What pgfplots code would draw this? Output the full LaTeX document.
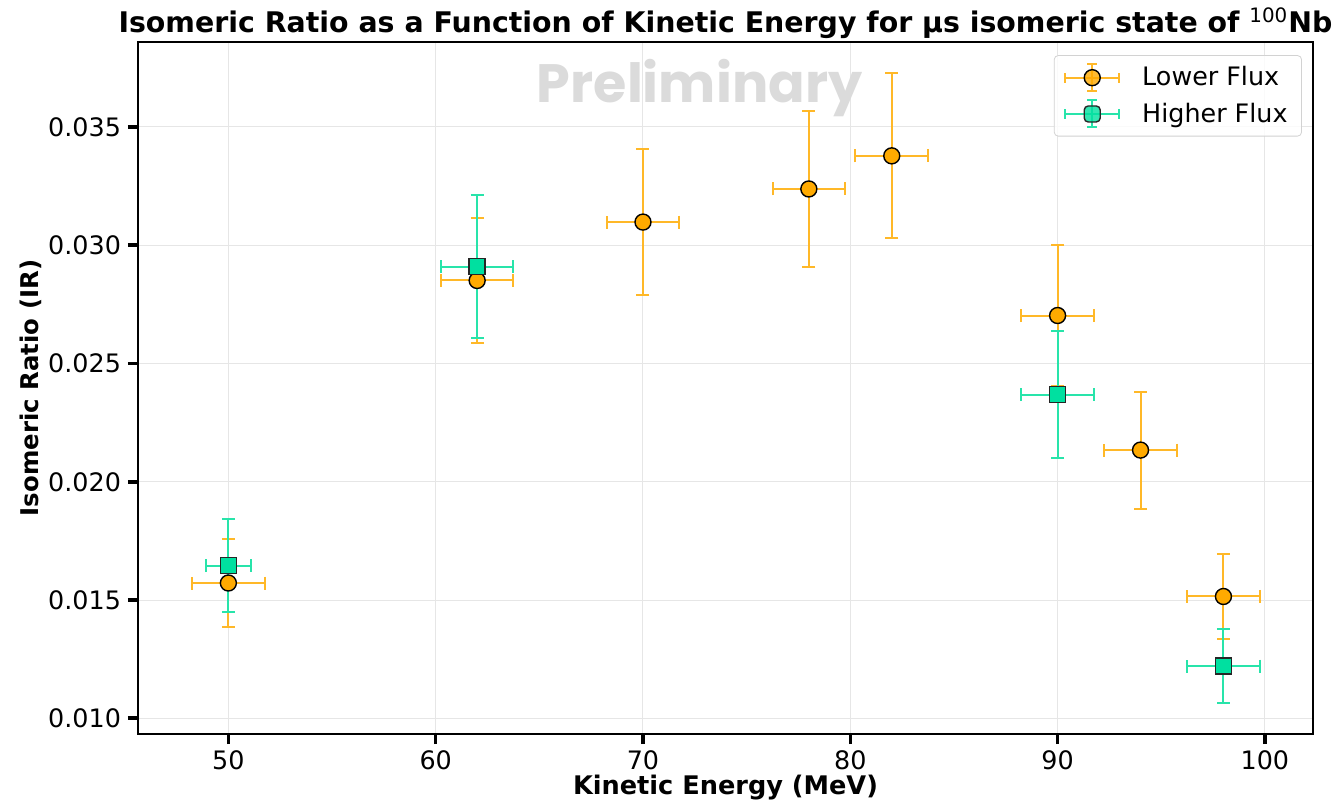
\documentclass[border=0pt]{standalone}
\usepackage{pgfplots}
\pgfplotsset{compat=1.18}
\usepackage{pgfplotstable}
\usepackage{fontspec}
\setmainfont{DejaVu Sans}
\newfontfamily\poppins{Poppins}
\definecolor{orfill}{RGB}{255,170,0}
\definecolor{orbar}{RGB}{255,184,40}
\definecolor{tefill}{RGB}{0,224,160}
\definecolor{tebar}{RGB}{40,228,170}
\definecolor{gridc}{RGB}{230,230,230}

\pgfplotstableread{
x y ex ey
50 0.01572 1.75 0.00186
62 0.02851 1.75 0.00264
70 0.03098 1.75 0.00309
78 0.03238 1.75 0.00330
82 0.03378 1.75 0.00349
90 0.02703 1.75 0.00298
94 0.02134 1.75 0.00247
98 0.01515 1.75 0.00180
}\lowerflux

\pgfplotstableread{
x y ex ey
50 0.01646 1.10 0.00197
62 0.02910 1.75 0.00302
90 0.02369 1.75 0.00268
98 0.01221 1.75 0.00156
}\higherflux

\begin{document}
\begin{tikzpicture}
\useasboundingbox (-69pt,-34.5pt) rectangle (600pt,367pt);
\begin{axis}[
  at={(0,0)}, anchor=south west,
  scale only axis,
  width=587.5pt, height=346pt,
  xmin=45.64, xmax=102.32,
  ymin=0.009336, ymax=0.038594,
  xtick={50,60,70,80,90,100},
  ytick={0.010,0.015,0.020,0.025,0.030,0.035},
  scaled y ticks=false,
  yticklabel style={/pgf/number format/.cd, fixed, fixed zerofill, precision=3, assume math mode=true},
  xticklabel style={/pgf/number format/assume math mode=true},
  tick label style={font=\fontsize{12.7}{14}\selectfont},
  tick align=outside,
  major tick length=5pt,
  every tick/.style={black, line width=1.8pt},
  xtick pos=bottom, ytick pos=left,
  axis line style={line width=1.3pt},
  grid=major,
  major grid style={gridc, line width=0.5pt},
  title={Isomeric Ratio as a Function of Kinetic Energy for μs isomeric state of \textsuperscript{\mdseries 100}Nb},
  title style={font=\fontsize{14.2}{16}\selectfont\bfseries, at={(axis description cs:0.5,1.013)}, anchor=base, yshift=-6pt},
  xlabel={Kinetic Energy (MeV)},
  xlabel style={font=\fontsize{12.8}{14}\selectfont\bfseries, at={(axis description cs:0.5,-0.088)}, anchor=base},
  ylabel={Isomeric Ratio (IR)},
  ylabel style={font=\fontsize{12.2}{14}\selectfont\bfseries, at={(axis description cs:-0.0843,0.5)}, anchor=base},
  legend style={at={(axis description cs:0.9906,0.981)}, anchor=north east,
    draw=gray!35, rounded corners=2pt, fill=white, fill opacity=0.8, text opacity=1,
    font=\fontsize{12.7}{14}\selectfont, inner xsep=5pt, inner ysep=3.5pt,
    row sep=3pt},
  legend cell align=left,
]
% error bars first
\addplot[only marks, mark=none, forget plot,
  error bars/.cd, x dir=both, x explicit, y dir=both, y explicit,
  error bar style={orbar, line width=1pt, solid},
  error mark options={rotate=90, orbar, line width=1pt, mark size=3.25pt}]
  table[x=x, y=y, x error=ex, y error=ey] {\lowerflux};
\addplot[only marks, mark=none, forget plot,
  error bars/.cd, x dir=both, x explicit, y dir=both, y explicit,
  error bar style={tebar, line width=1pt, solid},
  error mark options={rotate=90, tebar, line width=1pt, mark size=3.25pt}]
  table[x=x, y=y, x error=ex, y error=ey] {\higherflux};
% markers
\addplot[only marks, mark=*, mark size=4pt, mark options={fill=orfill, draw=black, line width=0.7pt},
  legend image code/.code={
    \draw[orbar, line width=1pt] (0pt,0pt)--(27pt,0pt) (13.5pt,-6.75pt)--(13.5pt,6.75pt)
      (0pt,-2.5pt)--(0pt,2.5pt) (27pt,-2.5pt)--(27pt,2.5pt)
      (11pt,6.75pt)--(16pt,6.75pt) (11pt,-6.75pt)--(16pt,-6.75pt);
    \draw[fill=orfill, draw=black, line width=0.7pt] (13.5pt,0pt) circle (4pt);
  }]
  table[x=x, y=y] {\lowerflux};
\addlegendentry{\hspace{9pt}Lower Flux}
\addplot[only marks, mark=square*, mark size=4pt, mark options={fill=tefill, draw=black!85, line width=0.7pt},
  legend image code/.code={
    \draw[tebar, line width=1pt] (0pt,0pt)--(27pt,0pt) (13.5pt,-6.75pt)--(13.5pt,6.75pt)
      (0pt,-2.5pt)--(0pt,2.5pt) (27pt,-2.5pt)--(27pt,2.5pt)
      (11pt,6.75pt)--(16pt,6.75pt) (11pt,-6.75pt)--(16pt,-6.75pt);
    \draw[fill=tefill, draw=black!85, line width=0.7pt] (9.5pt,-4pt) rectangle (17.5pt,4pt);
  }]
  table[x=x, y=y] {\higherflux};
\addlegendentry{\hspace{9pt}Higher Flux}
\node[anchor=base, text=black!14, font=\poppins\bfseries\fontsize{27}{30}\selectfont] at (rel axis cs:0.478,0.912) {Preliminary};
\end{axis}
\end{tikzpicture}
\end{document}
